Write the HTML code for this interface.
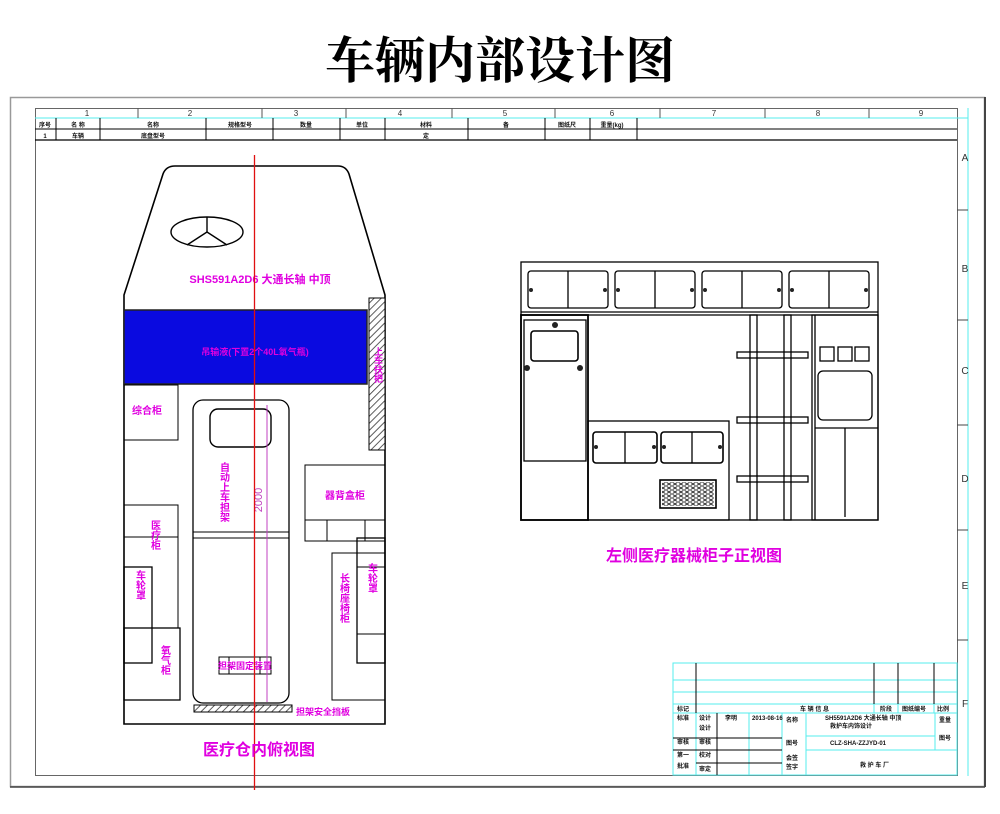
<!DOCTYPE html>
<html><head><meta charset="utf-8"><style>
html,body{margin:0;padding:0;background:#fff;width:1000px;height:814px;overflow:hidden}
svg{display:block}
.t{font-family:"Liberation Sans","Noto Sans CJK SC",sans-serif;font-weight:bold;fill:#e000e0}
.s{font-family:"Liberation Sans","Noto Sans CJK SC",sans-serif;font-weight:bold;fill:#111;font-size:6px}
</style></head><body>
<svg width="1000" height="814" viewBox="0 0 1000 814" xmlns="http://www.w3.org/2000/svg">
<defs>
<pattern id="h" width="5" height="5" patternUnits="userSpaceOnUse" patternTransform="rotate(45)">
<rect width="5" height="5" fill="#fff"/><line x1="0" y1="0" x2="0" y2="5" stroke="#333" stroke-width="1.6"/></pattern>
<pattern id="v" width="6" height="4" patternUnits="userSpaceOnUse"><rect width="6" height="4" fill="#fff"/><ellipse cx="3" cy="2" rx="2.2" ry="1.4" fill="none" stroke="#222" stroke-width="0.9"/></pattern>
</defs>
<text x="500" y="78" text-anchor="middle" font-family="'Liberation Serif','Noto Serif CJK SC',serif" font-weight="bold" font-size="50" fill="#000">车辆内部设计图</text>
<!-- outer frames -->
<rect x="10.5" y="97.5" width="974" height="689" fill="none" stroke="#999" stroke-width="1.5"/>
<line x1="985" y1="97" x2="985" y2="787" stroke="#444" stroke-width="2"/>
<line x1="10" y1="787" x2="985" y2="787" stroke="#444" stroke-width="1.5"/>
<rect x="35.5" y="108.5" width="922" height="667" fill="none" stroke="#666" stroke-width="1"/>
<line x1="968" y1="108" x2="968" y2="776" stroke="#5ee" stroke-width="1"/>
<line x1="35" y1="118" x2="968" y2="118" stroke="#5ee" stroke-width="1"/>
<line x1="35" y1="129" x2="957" y2="129" stroke="#000" stroke-width="1"/>
<line x1="35" y1="140" x2="957" y2="140" stroke="#000" stroke-width="1.2"/>
<g stroke="#555" stroke-width="1">
<line x1="138" y1="108" x2="138" y2="118"/><line x1="262" y1="108" x2="262" y2="118"/><line x1="346" y1="108" x2="346" y2="118"/><line x1="452" y1="108" x2="452" y2="118"/><line x1="555" y1="108" x2="555" y2="118"/><line x1="660" y1="108" x2="660" y2="118"/><line x1="765" y1="108" x2="765" y2="118"/><line x1="869" y1="108" x2="869" y2="118"/>
</g>
<g stroke="#000" stroke-width="1">
<line x1="56" y1="118" x2="56" y2="140"/><line x1="100" y1="118" x2="100" y2="140"/><line x1="206" y1="118" x2="206" y2="140"/><line x1="273" y1="118" x2="273" y2="140"/><line x1="340" y1="118" x2="340" y2="140"/><line x1="385" y1="118" x2="385" y2="140"/><line x1="468" y1="118" x2="468" y2="140"/><line x1="545" y1="118" x2="545" y2="140"/><line x1="590" y1="118" x2="590" y2="140"/><line x1="637" y1="118" x2="637" y2="140"/>
</g>
<g font-family="Liberation Sans,sans-serif" font-size="8" fill="#333" text-anchor="middle">
<text x="87" y="116">1</text><text x="190" y="116">2</text><text x="296" y="116">3</text><text x="400" y="116">4</text><text x="505" y="116">5</text><text x="612" y="116">6</text><text x="714" y="116">7</text><text x="818" y="116">8</text><text x="921" y="116">9</text>
</g>
<g class="s" text-anchor="middle"><text x="45" y="127">序号</text><text x="78" y="127">名 称</text><text x="153" y="127">名称</text><text x="240" y="127">规格型号</text><text x="306" y="127">数量</text><text x="362" y="127">单位</text><text x="426" y="127">材料</text><text x="506" y="127">备</text><text x="567" y="127">图纸尺</text><text x="612" y="127">重量(kg)</text>
<text x="45" y="138">1</text><text x="78" y="138">车辆</text><text x="153" y="138">底盘型号</text><text x="426" y="138">定</text></g>
<g font-family="Liberation Sans,sans-serif" font-size="10" fill="#333" text-anchor="middle">
<text x="965" y="161">A</text><text x="965" y="272">B</text><text x="965" y="374">C</text><text x="965" y="482">D</text><text x="965" y="589">E</text><text x="965" y="707">F</text></g>
<g stroke="#444" stroke-width="1"><line x1="957" y1="210" x2="968" y2="210"/><line x1="957" y1="320" x2="968" y2="320"/><line x1="957" y1="425" x2="968" y2="425"/><line x1="957" y1="530" x2="968" y2="530"/><line x1="957" y1="640" x2="968" y2="640"/></g>

<!-- vehicle top view -->
<path d="M175 166 L338 166 Q346 166 349 174 L385 295 L385 724 L124 724 L124 295 L163 174 Q166 166 175 166 Z" fill="#fff" stroke="#000" stroke-width="1.6"/>
<ellipse cx="207" cy="232" rx="36" ry="15" fill="none" stroke="#000" stroke-width="1.4"/>
<g stroke="#000" stroke-width="1.4"><line x1="207" y1="232" x2="207" y2="217"/><line x1="207" y1="232" x2="187" y2="245"/><line x1="207" y1="232" x2="227" y2="245"/></g>
<text class="t" x="260" y="283" font-size="11" text-anchor="middle">SHS591A2D6 大通长轴 中顶</text>
<rect x="124" y="310" width="243" height="74" fill="#0a0ae0" stroke="#222" stroke-width="1.5"/>
<text class="t" x="255" y="355" font-size="9" text-anchor="middle">吊输液(下置2个40L氧气瓶)</text>
<rect x="369" y="298" width="16" height="152" fill="url(#h)" stroke="#000"/>
<text class="t" x="378" y="365" font-size="9" text-anchor="middle" style="writing-mode:vertical-rl">上车扶把</text>
<rect x="124" y="385" width="54" height="55" fill="none" stroke="#000"/>
<text class="t" x="147" y="414" font-size="10" text-anchor="middle">综合柜</text>
<rect x="193" y="400" width="96" height="303" rx="10" fill="none" stroke="#000" stroke-width="1.3"/>
<rect x="210" y="409" width="61" height="38" rx="8" fill="none" stroke="#000" stroke-width="1.4"/>
<line x1="193" y1="532" x2="289" y2="532" stroke="#000"/><line x1="193" y1="538" x2="289" y2="538" stroke="#000"/>
<text class="t" x="223" y="492" font-size="10" text-anchor="middle" style="writing-mode:vertical-rl">自动上车担架</text>
<rect x="219" y="657" width="52" height="17" fill="none" stroke="#000"/>
<line x1="229" y1="657" x2="229" y2="674" stroke="#000"/><line x1="260" y1="657" x2="260" y2="674" stroke="#000"/>
<text class="t" x="245" y="669" font-size="9" text-anchor="middle">担架固定装置</text>
<line x1="267" y1="405" x2="267" y2="702" stroke="#c040c0" stroke-width="1"/>
<text x="262" y="500" font-family="Liberation Sans,sans-serif" font-size="11" fill="#c040c0" text-anchor="middle" transform="rotate(-90 262 500)">2000</text>
<rect x="194" y="705" width="98" height="7" fill="url(#h)" stroke="#000"/>
<text class="t" x="296" y="715" font-size="9">担架安全挡板</text>
<rect x="305" y="465" width="80" height="55" fill="none" stroke="#000"/>
<rect x="305" y="520" width="80" height="21" fill="none" stroke="#000"/>
<line x1="327" y1="520" x2="327" y2="541" stroke="#000"/><line x1="365" y1="520" x2="365" y2="541" stroke="#000"/>
<text class="t" x="345" y="499" font-size="10" text-anchor="middle">器背盒柜</text>
<rect x="124" y="505" width="54" height="123" fill="none" stroke="#000"/>
<line x1="124" y1="537" x2="178" y2="537" stroke="#000"/>
<rect x="124" y="567" width="28" height="96" fill="none" stroke="#000" stroke-width="1.3"/>
<text class="t" x="154" y="535" font-size="10" text-anchor="middle" style="writing-mode:vertical-rl">医疗柜</text>
<text class="t" x="139" y="585" font-size="10" text-anchor="middle" style="writing-mode:vertical-rl">车轮罩</text>
<rect x="124" y="628" width="56" height="72" fill="none" stroke="#000" stroke-width="1.3"/>
<text class="t" x="164" y="660" font-size="10" text-anchor="middle" style="writing-mode:vertical-rl">氧气柜</text>
<rect x="332" y="553" width="53" height="147" fill="none" stroke="#000"/>
<rect x="357" y="538" width="28" height="125" fill="none" stroke="#000" stroke-width="1.3"/>
<line x1="357" y1="567" x2="385" y2="567" stroke="#000"/><line x1="357" y1="634" x2="385" y2="634" stroke="#000"/>
<text class="t" x="343" y="598" font-size="10" text-anchor="middle" style="writing-mode:vertical-rl">长椅座椅柜</text>
<text class="t" x="371" y="578" font-size="10" text-anchor="middle" style="writing-mode:vertical-rl">车轮罩</text>
<line x1="254.5" y1="155" x2="254.5" y2="790" stroke="#e01010" stroke-width="1.3"/>
<text class="t" x="259" y="755" font-size="16" text-anchor="middle">医疗仓内俯视图</text>

<!-- left side cabinet elevation -->
<g fill="none" stroke="#000" stroke-width="1.3">
<rect x="521" y="262" width="357" height="258"/>
<line x1="521" y1="312" x2="878" y2="312"/><line x1="521" y1="315" x2="878" y2="315"/>
<rect x="528" y="271" width="80" height="37" rx="3"/><line x1="568" y1="271" x2="568" y2="308"/>
<rect x="615" y="271" width="80" height="37" rx="3"/><line x1="655" y1="271" x2="655" y2="308"/>
<rect x="702" y="271" width="80" height="37" rx="3"/><line x1="742" y1="271" x2="742" y2="308"/>
<rect x="789" y="271" width="80" height="37" rx="3"/><line x1="829" y1="271" x2="829" y2="308"/>
<rect x="521" y="315" width="67" height="205" stroke-width="1.8"/>
<rect x="524" y="320" width="62" height="141"/>
<rect x="531" y="331" width="47" height="30" rx="3" stroke-width="1.6"/>
<rect x="588" y="421" width="141" height="99"/>
<rect x="593" y="432" width="64" height="31" rx="3" stroke-width="1.6"/><line x1="625" y1="432" x2="625" y2="463"/>
<rect x="661" y="432" width="62" height="31" rx="3" stroke-width="1.6"/><line x1="692" y1="432" x2="692" y2="463"/>
<rect x="660" y="480" width="56" height="28" stroke-width="1.6"/>
<rect x="750" y="315" width="7" height="205"/><rect x="784" y="315" width="7" height="205"/>
<rect x="737" y="352" width="71" height="6"/><rect x="737" y="417" width="71" height="6"/><rect x="737" y="476" width="71" height="6"/>
<rect x="812" y="315" width="66" height="205"/>
<line x1="815" y1="315" x2="815" y2="520"/>
<rect x="818" y="371" width="54" height="49" rx="5"/>
<line x1="815" y1="428" x2="878" y2="428"/><line x1="845" y1="428" x2="845" y2="517"/>
<rect x="820" y="347" width="14" height="14"/><rect x="838" y="347" width="14" height="14"/><rect x="855" y="347" width="14" height="14"/>
</g>
<rect x="662" y="482" width="52" height="24" fill="url(#v)"/>
<g fill="#222"><circle cx="531" cy="290" r="2"/><circle cx="605" cy="290" r="2"/><circle cx="618" cy="290" r="2"/><circle cx="692" cy="290" r="2"/><circle cx="705" cy="290" r="2"/><circle cx="779" cy="290" r="2"/><circle cx="792" cy="290" r="2"/><circle cx="866" cy="290" r="2"/>
<circle cx="555" cy="325" r="3"/><circle cx="527" cy="368" r="3"/><circle cx="580" cy="368" r="3"/><circle cx="596" cy="447" r="2"/><circle cx="654" cy="447" r="2"/><circle cx="664" cy="447" r="2"/><circle cx="720" cy="447" r="2"/></g>
<text class="t" x="694" y="561" font-size="16" text-anchor="middle">左侧医疗器械柜子正视图</text>

<!-- title block -->
<g fill="none" stroke="#5ee" stroke-width="1">
<rect x="673" y="663" width="284" height="112"/>
<line x1="673" y1="680" x2="957" y2="680"/><line x1="673" y1="692" x2="957" y2="692"/><line x1="673" y1="704" x2="957" y2="704"/><line x1="673" y1="713" x2="957" y2="713"/>
<line x1="696" y1="663" x2="696" y2="775"/><line x1="717" y1="713" x2="717" y2="775"/><line x1="749" y1="713" x2="749" y2="775"/><line x1="782" y1="713" x2="782" y2="775"/><line x1="806" y1="713" x2="806" y2="775"/>
<line x1="874" y1="663" x2="874" y2="713"/><line x1="898" y1="663" x2="898" y2="713"/><line x1="934" y1="663" x2="934" y2="713"/>
<line x1="806" y1="736" x2="935" y2="736"/><line x1="806" y1="750" x2="957" y2="750"/><line x1="935" y1="713" x2="935" y2="750"/>
</g>
<g stroke="#000" stroke-width="1"><line x1="696" y1="663" x2="696" y2="713"/><line x1="673" y1="738" x2="782" y2="738"/><line x1="673" y1="750" x2="782" y2="750"/><line x1="696" y1="763" x2="782" y2="763"/><line x1="717" y1="713" x2="717" y2="775"/><line x1="874" y1="663" x2="874" y2="704"/><line x1="898" y1="663" x2="898" y2="704"/><line x1="934" y1="663" x2="934" y2="704"/></g>
<g class="s" font-size="5.5"><text x="677" y="711">标记</text><text x="800" y="711">车 辆 信 息</text><text x="880" y="711">阶段</text><text x="902" y="711">图纸编号</text><text x="937" y="711">比例</text>
<text x="677" y="720">标准</text><text x="699" y="720">设计</text><text x="725" y="720">李明</text><text x="752" y="720">2013-08-16</text><text x="786" y="722">名称</text><text x="825" y="720">SH5591A2D6 大通长轴 中顶</text><text x="830" y="728">救护车内饰设计</text><text x="939" y="722">重量</text>
<text x="699" y="730">设计</text><text x="677" y="744">审核</text><text x="699" y="744">审核</text><text x="786" y="745">图号</text><text x="830" y="745">CLZ-SHA-ZZJYD-01</text><text x="939" y="740">图号</text>
<text x="677" y="757">第一</text><text x="699" y="757">校对</text><text x="677" y="768">批准</text><text x="699" y="771">审定</text><text x="786" y="760">会签</text><text x="786" y="769">签字</text><text x="860" y="767">救 护 车 厂</text></g>
</svg>
</body></html>
